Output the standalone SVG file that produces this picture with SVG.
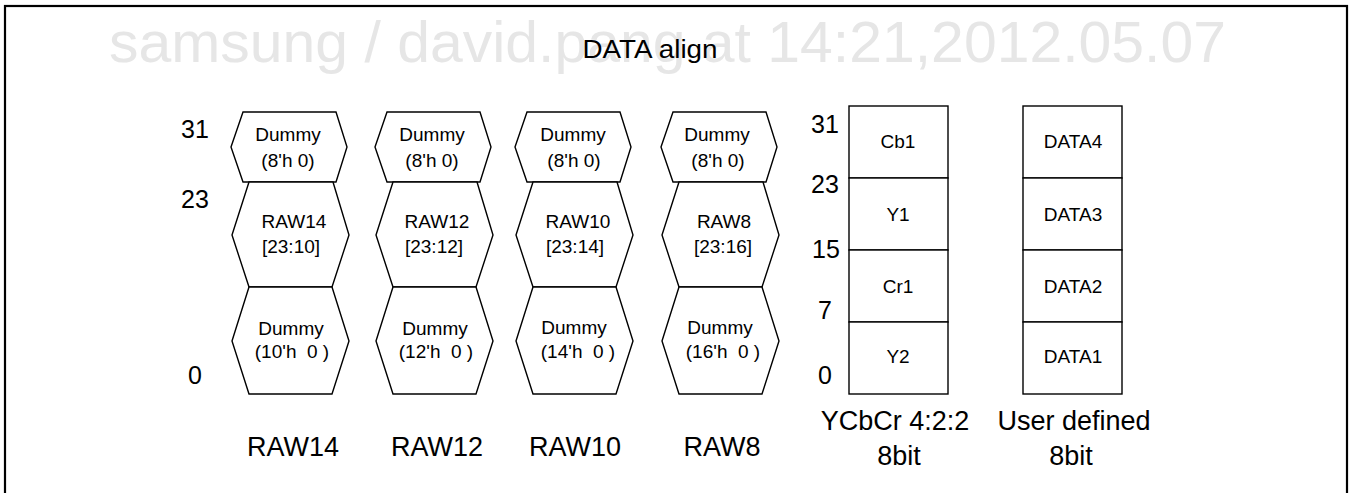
<svg xmlns="http://www.w3.org/2000/svg" width="1354" height="493" viewBox="0 0 1354 493">
<style>
text{font-family:"Liberation Sans",Arial,sans-serif;fill:#000;text-anchor:middle;white-space:pre}
.wm{fill:#e6e6e6;font-size:57px;text-anchor:start}
.hx{fill:#fff;stroke:#000;stroke-width:1.4;stroke-linejoin:miter}
.cell{fill:#fff;stroke:#000;stroke-width:1.4}
.in{font-size:19px}
.ax{font-size:25px}
.lb{font-size:27px}
</style>
<defs>
<polygon id="hexTop" class="hx" points="243,112 336,112 347,147 336,182 243,182 231,147"/>
<polygon id="hexMid" class="hx" points="249,182 333,182 349,235 332,287 249,287 232,235"/>
<polygon id="hexBot" class="hx" points="249,287 332,287 349,341 332,394 249,394 232,341"/>
</defs>
<rect x="0" y="0" width="1354" height="493" fill="#fff"/>
<rect x="5" y="6" width="1342" height="494" fill="none" stroke="#000" stroke-width="2.2"/>
<text class="wm" x="109" y="62" textLength="1117" lengthAdjust="spacingAndGlyphs">samsung / david.pang at 14:21,2012.05.07</text>
<g id="title"><text x="650" y="58" font-size="25" textLength="135" lengthAdjust="spacingAndGlyphs">DATA align</text></g>
<g id="axis-left">
<text class="ax" x="195" y="138">31</text>
<text class="ax" x="195" y="208">23</text>
<text class="ax" x="195" y="384">0</text>
</g>
<g id="col-raw14">
<use href="#hexTop"/><use href="#hexMid"/><use href="#hexBot"/>
<text class="in" x="288" y="141">Dummy</text><text class="in" x="288" y="167">(8'h 0)</text>
<text class="in" x="294" y="228">RAW14</text><text class="in" x="291" y="253">[23:10]</text>
<text class="in" x="291" y="335">Dummy</text><text class="in" x="292" y="358">(10'h  0 )</text>
<text class="lb" x="293" y="456">RAW14</text>
</g>
<g id="col-raw12">
<use href="#hexTop" x="144"/><use href="#hexMid" x="144"/><use href="#hexBot" x="144"/>
<text class="in" x="432" y="141">Dummy</text><text class="in" x="432" y="167">(8'h 0)</text>
<text class="in" x="437" y="228">RAW12</text><text class="in" x="434" y="253">[23:12]</text>
<text class="in" x="435" y="335">Dummy</text><text class="in" x="436" y="358">(12'h  0 )</text>
<text class="lb" x="437" y="456">RAW12</text>
</g>
<g id="col-raw10">
<use href="#hexTop" x="284"/><use href="#hexMid" x="284"/><use href="#hexBot" x="284"/>
<text class="in" x="573" y="141">Dummy</text><text class="in" x="574" y="167">(8'h 0)</text>
<text class="in" x="578" y="228">RAW10</text><text class="in" x="575" y="253">[23:14]</text>
<text class="in" x="574" y="334">Dummy</text><text class="in" x="578" y="358">(14'h  0 )</text>
<text class="lb" x="575" y="456">RAW10</text>
</g>
<g id="col-raw8">
<use href="#hexTop" x="430"/><use href="#hexMid" x="430"/><use href="#hexBot" x="430"/>
<text class="in" x="717" y="141">Dummy</text><text class="in" x="718" y="167">(8'h 0)</text>
<text class="in" x="724" y="228">RAW8</text><text class="in" x="723" y="253">[23:16]</text>
<text class="in" x="720" y="334">Dummy</text><text class="in" x="723" y="358">(16'h  0 )</text>
<text class="lb" x="722" y="456">RAW8</text>
</g>
<g id="axis-right">
<text class="ax" x="825" y="133">31</text>
<text class="ax" x="825" y="193">23</text>
<text class="ax" x="826" y="258">15</text>
<text class="ax" x="825" y="319">7</text>
<text class="ax" x="825" y="384">0</text>
</g>
<g id="col-ycbcr">
<rect class="cell" x="849" y="106" width="99" height="72"/>
<rect class="cell" x="849" y="178" width="99" height="72"/>
<rect class="cell" x="849" y="250" width="99" height="72"/>
<rect class="cell" x="849" y="322" width="99" height="72"/>
<text class="in" x="898" y="148">Cb1</text>
<text class="in" x="898" y="221">Y1</text>
<text class="in" x="898" y="293">Cr1</text>
<text class="in" x="898" y="363">Y2</text>
<text class="lb" x="895" y="430">YCbCr 4:2:2</text>
<text class="lb" x="899" y="465">8bit</text>
</g>
<g id="col-user">
<rect class="cell" x="1023" y="106" width="99" height="72"/>
<rect class="cell" x="1023" y="178" width="99" height="72"/>
<rect class="cell" x="1023" y="250" width="99" height="72"/>
<rect class="cell" x="1023" y="322" width="99" height="72"/>
<text class="in" x="1073" y="148">DATA4</text>
<text class="in" x="1073" y="221">DATA3</text>
<text class="in" x="1073" y="293">DATA2</text>
<text class="in" x="1073" y="363">DATA1</text>
<text class="lb" x="1074" y="430">User defined</text>
<text class="lb" x="1071" y="465">8bit</text>
</g>
<g id="connectors"/>
</svg>
